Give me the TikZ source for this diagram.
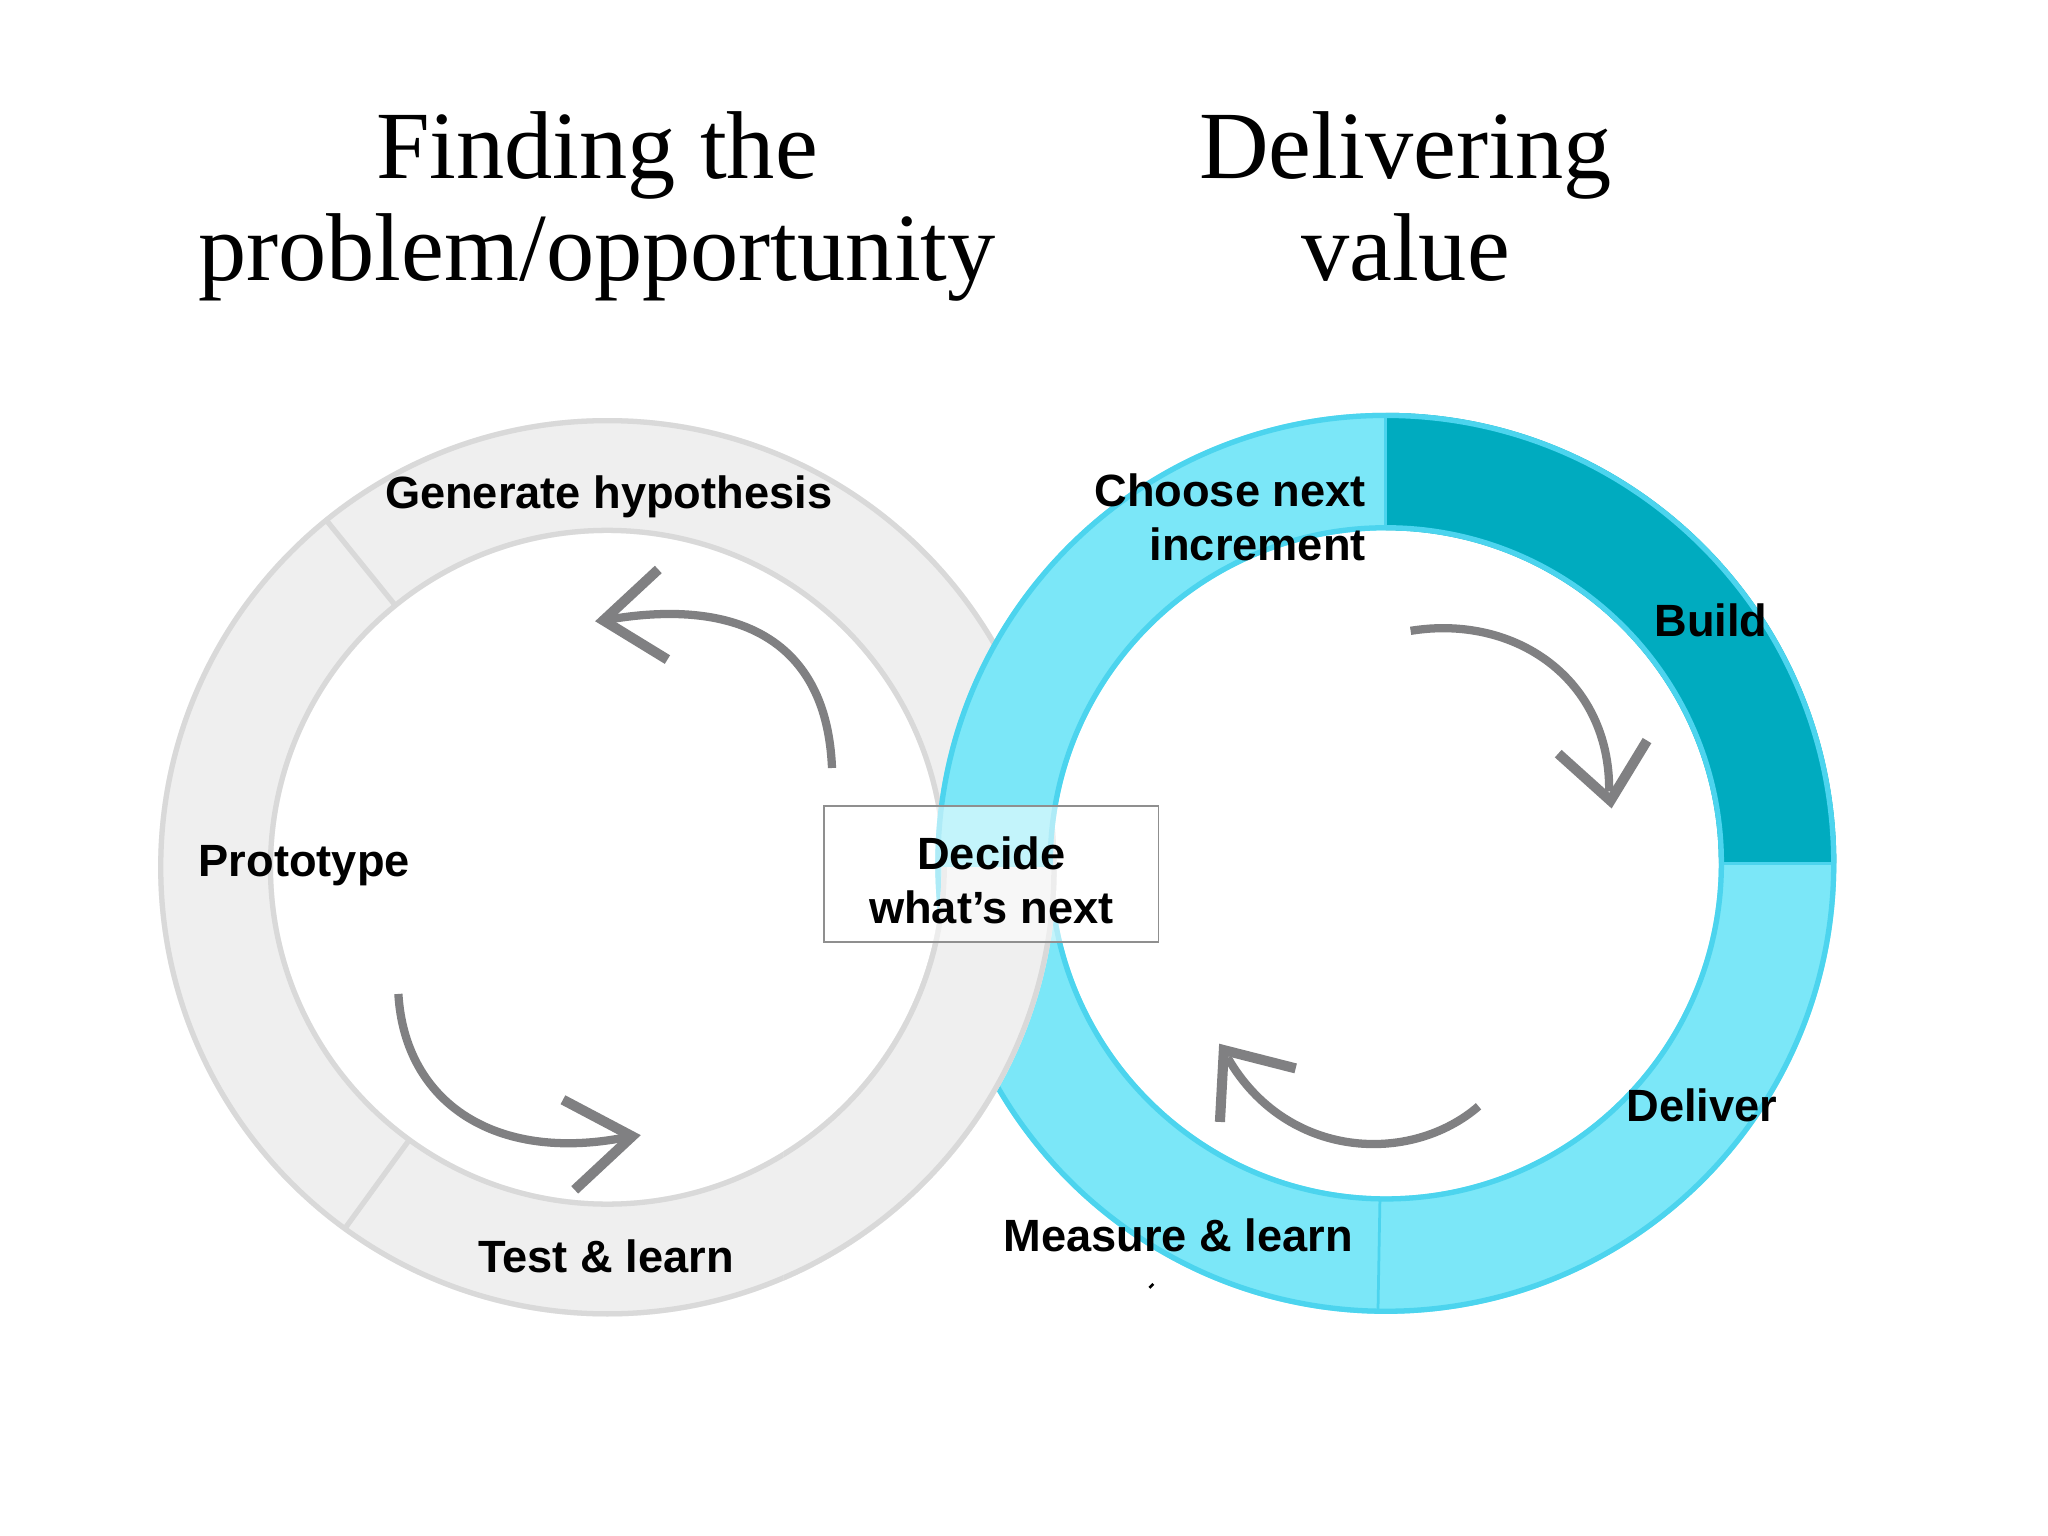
\documentclass[tikz,border=0pt]{standalone}
\usepackage{fontspec}
\setmainfont{Liberation Serif}
\newfontfamily\labfont{Liberation Sans}
\definecolor{gfill}{HTML}{EFEFEF}
\definecolor{gedge}{HTML}{D9D9D9}
\definecolor{cfill}{HTML}{7BE7F8}
\definecolor{cedge}{HTML}{4CD4EE}
\definecolor{cdark}{HTML}{00ABBF}
\definecolor{arrowgray}{HTML}{808082}
\definecolor{boxgray}{HTML}{8F8F8F}
\newcommand\mygrayring{%
  \fill[gfill,even odd rule] (465,512) circle[radius=6.88cm] (465,512) circle[radius=5.12cm];
  \draw[gline] (465,512) circle[radius=6.84cm] (465,512) circle[radius=5.16cm];
  \draw[gline] ([shift={(129:5.16cm)}]465,512) -- ([shift={(129:6.84cm)}]465,512);
  \draw[gline] ([shift={(-126:5.16cm)}]465,512) -- ([shift={(-126:6.84cm)}]465,512);
}
\begin{document}
\begin{tikzpicture}[x=0.02cm,y=0.02cm,
  gline/.style={draw=gedge,line width=2.3pt},
  cline/.style={draw=cedge,line width=2.3pt},
  sepline/.style={draw=cedge,line width=1.2pt},
  ttl/.style={font=\fontsize{42}{44.4}\selectfont,inner sep=0pt,anchor=base},
  lbl/.style={font=\labfont\bfseries\fontsize{19.7}{23.3}\selectfont,inner sep=0pt},
  curvearrow/.style={draw=arrowgray,line width=3.6pt},
  headarm/.style={draw=arrowgray,line width=4.4pt,line join=miter,miter limit=20},
  dbox/.style={draw=boxgray,line width=0.8pt,fill=white,fill opacity=0.55,minimum width=5.12cm,minimum height=2.08cm,inner sep=0pt}]
\useasboundingbox (0,0) rectangle (1568,1176);
\fill[white] (0,0) rectangle (1568,1176);

% left (gray) ring
\mygrayring

% right (cyan) ring
\fill[cfill] ([shift={(0:6.9cm)}]1061,515) arc[start angle=0,end angle=-270,radius=6.9cm]
  -- ([shift={(90:5.1cm)}]1061,515) arc[start angle=90,end angle=360,radius=5.1cm] -- cycle;
\fill[cdark] ([shift={(0:6.9cm)}]1061,515) arc[start angle=0,end angle=90,radius=6.9cm]
  -- ([shift={(90:5.1cm)}]1061,515) arc[start angle=90,end angle=0,radius=5.1cm] -- cycle;
\draw[cline] (1061,515) circle[radius=6.86cm] (1061,515) circle[radius=5.14cm];
\draw[sepline] ([shift={(90:5.14cm)}]1061,515) -- ([shift={(90:6.86cm)}]1061,515);
\draw[sepline] ([shift={(0:5.14cm)}]1061,515) -- ([shift={(0:6.86cm)}]1061,515);
\draw[sepline] ([shift={(-91:5.14cm)}]1061,515) -- ([shift={(-91:6.86cm)}]1061,515);

% gray ring passes over the cyan ring at the lower crossing
\begin{scope}
  \clip (600,0) rectangle (950,512);
  \mygrayring
\end{scope}

% curved arrows
\draw[curvearrow] (637,588) .. controls (633,686) and (565,718) .. (468,702);
\draw[headarm] (504,740) -- (462,701) -- (511,671);
\draw[curvearrow] (305,415) .. controls (310,331) and (380,286) .. (478,305);
\draw[headarm] (431,334) -- (484,306) -- (440,265);
\draw[curvearrow] (1080,693) .. controls (1160,706) and (1233,656) .. (1232,570);
\draw[headarm] (1193,599) -- (1233,563) -- (1261,609);
\draw[curvearrow] (1132,329) .. controls (1080,284) and (985,288) .. (940,366);
\draw[headarm] (992,358) -- (937,372) -- (934,317);

% decide box
\node[dbox] (decide) at (759,507) {};
\node[lbl,align=center] (decidetext) at (759,502) {Decide\\what’s next};

% titles
\node[ttl] (t1a) at (457,1039) {Finding the};
\node[ttl] (t1b) at (457,961) {problem/opportunity};
\node[ttl] (t2a) at (1076,1039) {Delivering};
\node[ttl] (t2b) at (1076,961) {value};

% labels
\node[lbl,anchor=base] (gen) at (466,787) {Generate hypothesis};
\node[lbl,anchor=base] (proto) at (233,505) {Prototype};
\node[lbl,anchor=base] (test) at (464,202) {Test \& learn};
\node[lbl,align=right,anchor=east] (choose) at (1046,780) {Choose next\\increment};
\node[lbl,anchor=base] (build) at (1310,689) {Build};
\node[lbl,anchor=base] (deliver) at (1303,317) {Deliver};
\node[lbl,anchor=base] (measure) at (902,218) {Measure \& learn};
\draw[black,line width=1.2pt] (880,190) -- (883,193);
\end{tikzpicture}
\end{document}
